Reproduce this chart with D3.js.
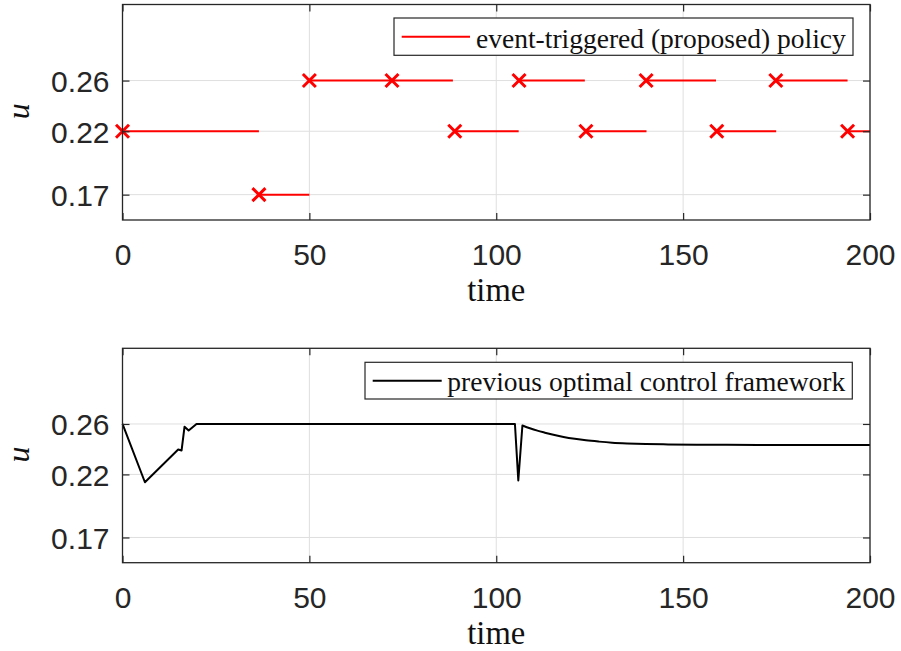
<!DOCTYPE html>
<html><head><meta charset="utf-8">
<script src="https://cdn.jsdelivr.net/npm/d3@7"></script>
<style>body{margin:0;background:#fff} svg{display:block}</style>
</head><body>
<svg id="c" width="901" height="651"></svg>
<script>
// ---- data ----
const xTicks = [0, 50, 100, 150, 200];
const yTicks = [0.17, 0.22, 0.26];
const yTickLabels = ["0.17", "0.22", "0.26"];
const xDomain = [0, 200];
const yDomain = [0.15, 0.32];

// event-triggered policy: trigger instants, held value, end of hold
const eventTimes = [0, 36.5, 50, 72.1, 88.9, 106.1, 124.0, 140.1, 159.0, 174.8, 194.0];
const eventU     = [0.22, 0.17, 0.26, 0.26, 0.22, 0.26, 0.22, 0.26, 0.22, 0.26, 0.22];
const holdEnd    = [36.5, 50, 72.1, 88.4, 106.0, 123.7, 140.2, 158.8, 174.9, 194.0, 200];

// previous optimal control framework
const prevTime = [0, 6.0, 14.9, 15.8, 16.6, 17.7, 19.8, 105.0, 105.9, 107.0, 109.0, 111.0, 113.0, 115.0, 118.0, 121.0, 124.0, 127.5, 131.0, 135.0, 140.0, 146.0, 155.0, 170.0, 200.0];
const prevU    = [0.26, 0.2138, 0.2397, 0.2389, 0.2578, 0.2548, 0.26, 0.26, 0.2152, 0.2588, 0.2566, 0.2547, 0.2531, 0.2516, 0.2497, 0.2482, 0.2470, 0.2460, 0.2452, 0.2446, 0.2441, 0.2438, 0.2435, 0.2434, 0.2434];
const smoothFrom = 107.0; // after the dip, the response decays smoothly

const legendTop = "event-triggered (proposed) policy";
const legendBottom = "previous optimal control framework";
const xLabel = "time";
const yLabel = "u";

// ---- layout ----
const svg = d3.select("#c");
const AX = "#262626", GRID = "#dfdfdf";
const SANS = "'Liberation Sans', Arial, Helvetica, sans-serif";
const SERIF = "'Liberation Serif', 'Times New Roman', serif";
const left = 122.5, right = 870;
const panels = [
  {top: 4.5, bottom: 220, legend: legendTop, color: "#ff0000", kind: "event",
   leg: {x0: 394, y0: 18, y1: 55.3, lineX0: 401.7, lineX1: 470, textX: 476, base: 48, tw: 370}},
  {top: 348.3, bottom: 562.7, legend: legendBottom, color: "#000000", kind: "prev",
   leg: {x0: 365, y0: 362.3, y1: 399, lineX0: 372.7, lineX1: 441.7, textX: 447.3, base: 391, tw: 398}}
];

function fitText(sel, target) {
  const fs = parseFloat(sel.attr("font-size"));
  const w = sel.node().getComputedTextLength();
  if (w > 0) sel.attr("font-size", (fs * target / w).toFixed(2));
}

panels.forEach(p => {
  const x = d3.scaleLinear().domain(xDomain).range([left, right]);
  const y = d3.scaleLinear().domain(yDomain).range([p.bottom, p.top]);
  const g = svg.append("g");

  // grid
  g.append("g").selectAll("line").data(xTicks).join("line")
    .attr("x1", d => x(d)).attr("x2", d => x(d)).attr("y1", p.top).attr("y2", p.bottom)
    .attr("stroke", GRID).attr("stroke-width", 1);
  g.append("g").selectAll("line").data(yTicks).join("line")
    .attr("y1", d => y(d)).attr("y2", d => y(d)).attr("x1", left).attr("x2", right)
    .attr("stroke", GRID).attr("stroke-width", 1);

  // data
  const clipId = "clip" + p.kind;
  svg.append("clipPath").attr("id", clipId).append("rect")
    .attr("x", left).attr("y", p.top - 10).attr("width", right - left + 1).attr("height", p.bottom - p.top + 20);
  const dg = g.append("g");
  if (p.kind === "event") {
    const segs = eventTimes.map((t, i) => ({t0: t, t1: holdEnd[i], u: eventU[i]}));
    dg.append("g").attr("clip-path", `url(#${clipId})`).selectAll("line").data(segs).join("line")
      .attr("x1", d => x(d.t0)).attr("x2", d => x(d.t1))
      .attr("y1", d => y(d.u)).attr("y2", d => y(d.u))
      .attr("stroke", p.color).attr("stroke-width", 2);
    const s = 6.5;
    dg.append("g").selectAll("path").data(segs).join("path")
      .attr("d", d => {
        const cx = x(d.t0), cy = y(d.u);
        return `M${cx - s},${cy - s}L${cx + s},${cy + s}M${cx - s},${cy + s}L${cx + s},${cy - s}`;
      })
      .attr("stroke", p.color).attr("stroke-width", 3).attr("fill", "none");
  } else {
    const pts = prevTime.map((t, i) => [t, prevU[i]]);
    const sharp = pts.filter(d => d[0] <= smoothFrom);
    const smooth = pts.filter(d => d[0] >= smoothFrom);
    const lineL = d3.line().x(d => x(d[0])).y(d => y(d[1])).curve(d3.curveLinear);
    const lineS = d3.line().x(d => x(d[0])).y(d => y(d[1])).curve(d3.curveMonotoneX);
    dg.append("path").attr("d", lineL(sharp) + lineS(smooth).replace(/^M/, "L"))
      .attr("fill", "none").attr("stroke", p.color).attr("stroke-width", 2)
      .attr("stroke-linejoin", "round");
  }

  // axes (MATLAB box style with inward ticks)
  const axB = d3.axisBottom(x).tickValues(xTicks).tickSizeInner(-7).tickSizeOuter(0).tickPadding(0).tickFormat(d3.format("d"));
  const axT = d3.axisTop(x).tickValues(xTicks).tickSizeInner(-7).tickSizeOuter(0).tickFormat("");
  const axL = d3.axisLeft(y).tickValues(yTicks).tickSizeInner(-7).tickSizeOuter(0).tickPadding(0)
    .tickFormat((d, i) => yTickLabels[i]);
  const axR = d3.axisRight(y).tickValues(yTicks).tickSizeInner(-7).tickSizeOuter(0).tickFormat("");

  const styleAxis = sel => {
    sel.select(".domain").remove();
    sel.selectAll(".tick line").attr("stroke", AX).attr("stroke-width", 1.2);
  };
  const gb = g.append("g").attr("transform", `translate(0,${p.bottom})`).call(axB).call(styleAxis);
  gb.selectAll(".tick text").attr("font-family", SANS).attr("font-size", 30).attr("fill", AX)
    .attr("dy", null).attr("y", 45);
  g.append("g").attr("transform", `translate(0,${p.top})`).call(axT).call(styleAxis);
  const gl = g.append("g").attr("transform", `translate(${left},0)`).call(axL).call(styleAxis);
  gl.selectAll(".tick text").attr("font-family", SANS).attr("font-size", 30).attr("fill", AX)
    .attr("dy", null).attr("x", -13).attr("y", 11);
  g.append("g").attr("transform", `translate(${right},0)`).call(axR).call(styleAxis);

  g.append("rect").attr("x", left).attr("y", p.top).attr("width", right - left).attr("height", p.bottom - p.top)
    .attr("fill", "none").attr("stroke", AX).attr("stroke-width", 1.3);

  // axis labels
  const xl = g.append("text").attr("x", (left + right) / 2).attr("y", p.bottom + 81)
    .attr("text-anchor", "middle").attr("font-family", SERIF).attr("font-size", 32).attr("fill", "#111").text(xLabel);
  fitText(xl, 58);
  g.append("text").attr("transform", `translate(29,${(p.top + p.bottom) / 2 - 1}) rotate(-90)`)
    .attr("text-anchor", "middle").attr("font-family", SERIF).attr("font-style", "italic")
    .attr("font-size", 32).attr("fill", "#111").text(yLabel);

  // legend
  const L = p.leg;
  const lg = g.append("g");
  const box = lg.append("rect").attr("x", L.x0).attr("y", L.y0).attr("height", L.y1 - L.y0)
    .attr("fill", "#fff").attr("stroke", AX).attr("stroke-width", 1.2);
  lg.append("line").attr("x1", L.lineX0).attr("x2", L.lineX1)
    .attr("y1", (L.y0 + L.y1) / 2).attr("y2", (L.y0 + L.y1) / 2)
    .attr("stroke", p.color).attr("stroke-width", 2);
  const lt = lg.append("text").attr("x", L.textX).attr("y", L.base)
    .attr("font-family", SERIF).attr("font-size", 26).attr("fill", "#111").text(p.legend);
  fitText(lt, L.tw);
  box.attr("width", L.textX + L.tw + 7 - L.x0);
});
</script>
</body></html>
